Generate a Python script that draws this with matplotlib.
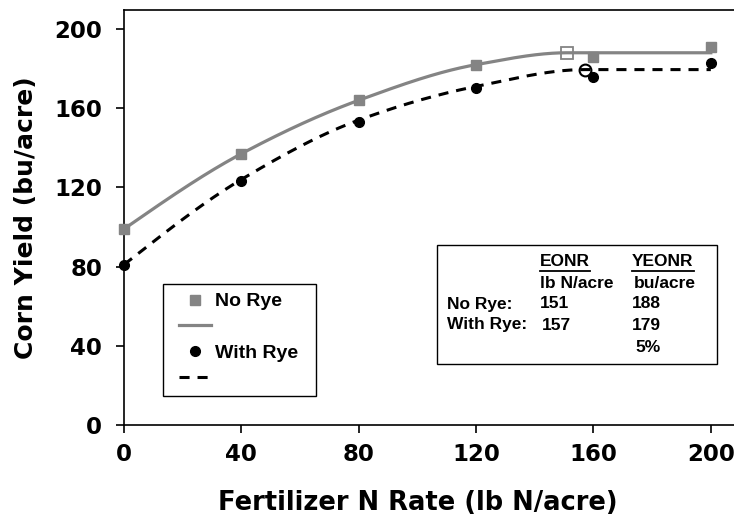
import numpy as np
import matplotlib
matplotlib.use("Agg")
import matplotlib.pyplot as plt
from matplotlib.lines import Line2D
from matplotlib.patches import Rectangle

plt.rcParams['font.family'] = ['DejaVu Sans']
plt.rcParams['font.weight'] = 'bold'

# Observed data
n_rate = [0, 40, 80, 120, 160, 200]
no_rye = [99, 137, 164, 182, 186, 191]
with_rye = [81, 123, 153, 170, 176, 183]

# Fitted quadratic-plateau response curves (knots)
no_rye_curve_x = [0, 40, 80, 120, 151, 200]
no_rye_curve_y = [99, 137, 164, 182, 188, 188]
with_rye_curve_x = [0, 40, 80, 120, 157, 200]
with_rye_curve_y = [81, 124, 154, 171, 179.5, 179.5]

# EONR / YEONR
eonr_no_rye, yeonr_no_rye = 151, 188
eonr_with_rye, yeonr_with_rye = 157, 179.5

x_ticks = [0, 40, 80, 120, 160, 200]
y_ticks = [0, 40, 80, 120, 160, 200]


def pchip(xk, yk, xs):
    xk = np.asarray(xk, float)
    yk = np.asarray(yk, float)
    h = np.diff(xk)
    d = np.diff(yk) / h
    m = np.zeros_like(yk)
    for i in range(1, len(xk) - 1):
        if d[i - 1] * d[i] <= 0:
            m[i] = 0
        else:
            w1 = 2 * h[i] + h[i - 1]
            w2 = h[i] + 2 * h[i - 1]
            m[i] = (w1 + w2) / (w1 / d[i - 1] + w2 / d[i])
    m[0] = d[0] * 1.08
    m[-1] = d[-1]
    out = np.empty_like(xs)
    for j, x in enumerate(xs):
        i = min(max(np.searchsorted(xk, x) - 1, 0), len(xk) - 2)
        t = (x - xk[i]) / h[i]
        h00 = 2 * t**3 - 3 * t**2 + 1
        h10 = t**3 - 2 * t**2 + t
        h01 = -2 * t**3 + 3 * t**2
        h11 = t**3 - t**2
        out[j] = h00 * yk[i] + h10 * h[i] * m[i] + h01 * yk[i + 1] + h11 * h[i] * m[i + 1]
    return out


W, H = 734, 521
fig = plt.figure(figsize=(W / 100, H / 100), dpi=100)
ax = fig.add_axes([124 / W, 1 - 425 / H, 1 - 124 / W, (425 - 10) / H])

gray = '#848484'
xs = np.linspace(0, 200, 500)
ax.plot(xs, pchip(no_rye_curve_x, no_rye_curve_y, xs), color=gray, lw=2.3, zorder=2)
ax.plot(xs, pchip(with_rye_curve_x, with_rye_curve_y, xs), color='black', lw=2.2,
        dashes=(3.3, 2.6), zorder=2)
ax.plot(n_rate, no_rye, 's', color=gray, ms=7, zorder=3, clip_on=False)
ax.plot(n_rate, with_rye, 'o', color='black', ms=7, zorder=3, clip_on=False)
ax.plot([eonr_no_rye], [yeonr_no_rye], 's', ms=8.5,
        mfc='none', mec=gray, mew=1.3, zorder=4)
ax.plot([eonr_with_rye], [yeonr_with_rye], 'o', ms=8.5,
        mfc='none', mec='black', mew=1.5, zorder=4)

ax.set_xlim(0, 207.9)
ax.set_ylim(0, 209.6)
ax.set_xticks(x_ticks)
ax.set_yticks(y_ticks)
ax.tick_params(direction='out', length=5.8, width=1.2, labelsize=16.5)
ax.tick_params(axis='x', pad=7)
ax.tick_params(axis='y', pad=10)
for lab in ax.get_xticklabels() + ax.get_yticklabels():
    lab.set_fontweight('bold')
ax.spines['right'].set_visible(False)
for s in ['left', 'bottom', 'top']:
    ax.spines[s].set_linewidth(1.2)

ax.set_xlabel('Fertilizer N Rate (lb N/acre)', fontsize=18.5, fontweight='bold', labelpad=12)
ax.xaxis.set_label_coords((418 - 124) / (W - 124), -0.157)
ax.set_ylabel('Corn Yield (bu/acre)', fontsize=18, fontweight='bold', labelpad=12)


def fx(px):
    return px / W


def fy(py):
    return 1 - py / H


# Legend
handles = [
    Line2D([], [], ls='none', marker='s', color=gray, ms=7),
    Line2D([], [], color=gray, lw=2.3),
    Line2D([], [], ls='none', marker='o', color='black', ms=7),
    Line2D([], [], color='black', lw=2.2, dashes=(3.3, 2.6)),
]
labels = ['No Rye', ' ', 'With Rye', ' ']
leg = fig.legend(handles, labels, loc='upper left',
                 bbox_to_anchor=(fx(170), fy(284)),
                 borderaxespad=0, frameon=False,
                 prop={'family': 'Liberation Sans', 'size': 14, 'weight': 'bold'},
                 handlelength=1.65, labelspacing=0.42, borderpad=0.45,
                 handletextpad=0.2)
fig.patches.append(Rectangle((fx(163), fy(396)), fx(316) - fx(163), fy(284) - fy(396),
                             transform=fig.transFigure, fill=False,
                             edgecolor='black', lw=1.0, zorder=5))

# Table box
fig.patches.append(Rectangle((fx(437), fy(364)), fx(717) - fx(437), fy(245) - fy(364),
                             transform=fig.transFigure, fill=False,
                             edgecolor='black', lw=1.0, zorder=5))
tkw = dict(fontsize=12.5, fontweight='bold', va='center', ha='left',
           family='Liberation Sans')
t1 = fig.text(fx(540), fy(262), 'EONR', **tkw)
t2 = fig.text(fx(632), fy(262), 'YEONR', **tkw)
fig.text(fx(540), fy(283), 'lb N/acre', **tkw)
fig.text(fx(634), fy(283), 'bu/acre', **tkw)
fig.text(fx(447), fy(304), 'No Rye:', **tkw)
fig.text(fx(540), fy(304), '151', **tkw)
fig.text(fx(632), fy(304), '188', **tkw)
fig.text(fx(447), fy(325), 'With Rye:', **tkw)
fig.text(fx(542), fy(325), '157', **tkw)
fig.text(fx(632), fy(325), '179', **tkw)
fig.text(fx(635), fy(347), '5%', **tkw)

fig.canvas.draw()
r = fig.canvas.get_renderer()
for t in (t1, t2):
    bb = t.get_window_extent(r)
    y = bb.y0 - 1
    fig.add_artist(Line2D([bb.x0 / W, bb.x1 / W], [y / H, y / H],
                          transform=fig.transFigure, color='black', lw=1.3))

fig.savefig('out.png', dpi=100)
